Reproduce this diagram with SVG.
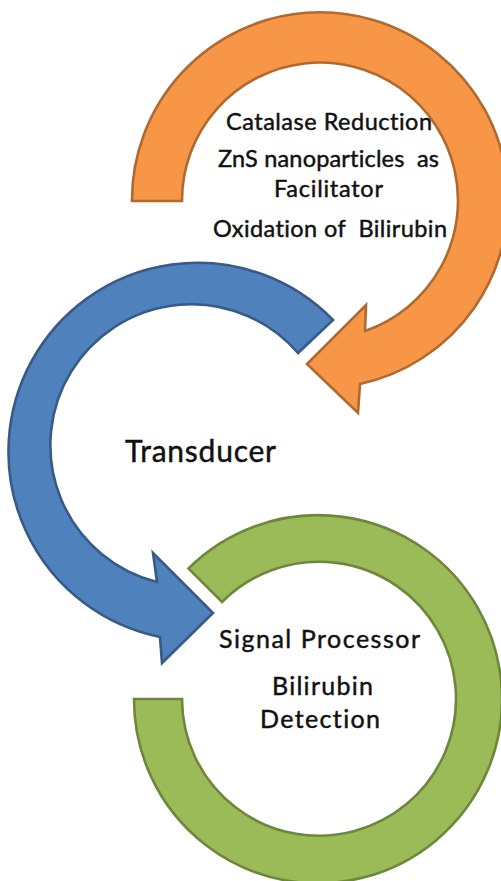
<svg xmlns="http://www.w3.org/2000/svg" width="501" height="881" viewBox="0 0 501 881">
  <style>
    .band { stroke-width: 2.6; stroke-linejoin: miter; }
    .orange { fill: #F79646; stroke: #B0692F; }
    .blue { fill: #4F81BD; stroke: #375A86; }
    .green { fill: #9BBB59; stroke: #6E873D; }
    text { font-family: Lato, "Open Sans", "Liberation Sans", sans-serif; font-variant-ligatures: none; fill: #111; stroke: #111; stroke-width: 0.45; text-anchor: middle; }
    .s23 { font-size: 23.5px; }
    .s25 { font-size: 25px; }
    .s30 { font-size: 30px; }
  </style>
  <rect width="501" height="881" fill="#ffffff"/>

  <!-- Catalysis stage: orange circular arrow running clockwise, head pointing down-left -->
  <g id="node-catalysis">
    <path class="band orange" d="M 132,201 A 188 188 0 1 1 360,384 L 358,413 L 307,364 L 366,305 L 365,331 A 138 138 0 1 0 182,201 Z"/>
    <text class="s23" x="329" y="130" textLength="206" lengthAdjust="spacing">Catalase Reduction</text>
    <text class="s23" x="328.5" y="167" textLength="221" lengthAdjust="spacing" xml:space="preserve">ZnS nanoparticles  as</text>
    <text class="s23" x="328.5" y="197" textLength="109" lengthAdjust="spacing">Facilitator</text>
    <text class="s23" x="330" y="237" textLength="234" lengthAdjust="spacing" xml:space="preserve">Oxidation of  Bilirubin</text>
  </g>

  <!-- Transducer stage: blue circular arrow running counter-clockwise, head pointing right -->
  <g id="node-transducer">
    <path class="band blue" d="M 333,320 A 189 189 0 1 0 160,637 L 162,663 L 213,613 L 153,553 L 157,582 A 141 141 0 1 1 298,353 Z"/>
    <text class="s30" x="200.5" y="462" textLength="151" lengthAdjust="spacing">Transducer</text>
  </g>

  <!-- Signal processing stage: open green ring -->
  <g id="node-processor">
    <path class="band green" d="M 188.5,568.5 A 184 184 0 1 1 134,699 L 182,699 A 137 137 0 1 0 222,602 Z"/>
    <text class="s25" x="319.5" y="648" textLength="201" lengthAdjust="spacing">Signal Processor</text>
    <text class="s25" x="322.5" y="695" textLength="101" lengthAdjust="spacing">Bilirubin</text>
    <text class="s25" x="320" y="728" textLength="120" lengthAdjust="spacing">Detection</text>
  </g>
</svg>
